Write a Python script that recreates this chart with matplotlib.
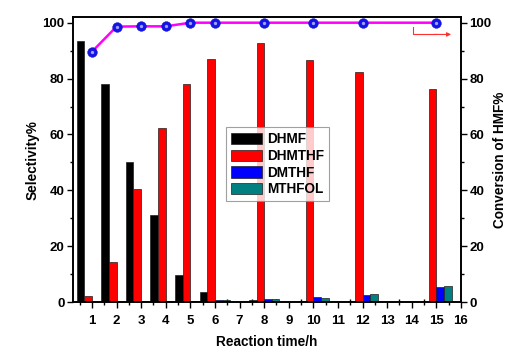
import matplotlib
matplotlib.use("Agg")
import matplotlib.pyplot as plt
import numpy as np
from matplotlib.ticker import MultipleLocator, FixedLocator

plt.rcParams['font.family'] = ['Liberation Sans', 'DejaVu Sans']
plt.rcParams['font.weight'] = 'bold'

times = [1, 2, 3, 4, 5, 6, 8, 10, 12, 15]
dhmf = [93.4, 78.1, 50.0, 31.0, 9.8, 3.6, 0.8, 0.3, 0.0, 0.0]
dhmthf = [2.3, 14.3, 40.4, 62.4, 78.1, 87.1, 92.7, 86.7, 82.4, 76.2]
dmthf = [0.0, 0.0, 0.0, 0.5, 0.5, 0.8, 1.2, 1.8, 2.7, 5.5]
mthfol = [0.0, 0.0, 0.0, 0.0, 0.0, 0.6, 1.0, 1.6, 2.8, 5.9]
conversion = [89.6, 98.6, 98.7, 98.7, 100, 100, 100, 100, 100, 100]
xtick_labels = [str(i) for i in range(1, 17)]

series = [("DHMF", dhmf, "#000000"),
          ("DHMTHF", dhmthf, "#FF0000"),
          ("DMTHF", dmthf, "#0000FF"),
          ("MTHFOL", mthfol, "#008080")]

fig = plt.figure(figsize=(5.25, 3.64), dpi=100)
ax = fig.add_axes([0.139, 0.170, 0.739, 0.783])
w = 0.31
x = np.array(times, dtype=float)
offsets = [-1.5, -0.5, 0.5, 1.5]
for (name, vals, col), off in zip(series, offsets):
    ax.bar(x + off * w, vals, width=w, color=col, edgecolor="#202020",
           linewidth=0.5, label=name, zorder=2)

ax.set_xlim(0.23, 16.0)
ax.set_ylim(0, 102)
ax.set_xticks(range(1, 17))
ax.set_xticklabels(xtick_labels)
ax.xaxis.set_minor_locator(FixedLocator(np.arange(0.5, 16.0, 1.0)))
ax.yaxis.set_major_locator(MultipleLocator(20))
ax.yaxis.set_minor_locator(MultipleLocator(10))
ax.tick_params(axis='y', which='major', direction='out', length=4, width=1,
               labelsize=9.5, pad=2)
ax.tick_params(axis='x', which='major', direction='out', length=4, width=1,
               labelsize=9.5, pad=5)
ax.tick_params(axis='x', which='minor', direction='inout', length=4, width=1)
ax.tick_params(axis='y', which='minor', direction='out', length=2.5, width=1)
ax.set_xlabel("Reaction time/h", fontsize=9.8, fontweight='bold', labelpad=6)
ax.set_ylabel("Selectivity%", fontsize=9.8, fontweight='bold', labelpad=2)
for sp in ax.spines.values():
    sp.set_linewidth(1.2)

leg = ax.legend(loc='upper left', bbox_to_anchor=(0.394, 0.613), fontsize=9.8,
                frameon=True, fancybox=False, edgecolor='#888888',
                handlelength=2.3, handleheight=0.9, labelspacing=0.2,
                borderpad=0.35, handletextpad=0.4, borderaxespad=0)
leg.get_frame().set_linewidth(0.8)
for t in leg.get_texts():
    t.set_fontweight('bold')

ax2 = ax.twinx()
ax2.set_ylim(0, 102)
ax2.yaxis.set_major_locator(MultipleLocator(20))
ax2.yaxis.set_minor_locator(MultipleLocator(10))
ax2.tick_params(axis='y', which='major', direction='out', length=4, width=1,
                labelsize=9.5, pad=2)
ax2.tick_params(axis='y', which='minor', direction='out', length=2.5, width=1)
ax2.set_ylabel("Conversion of HMF%", fontsize=9.8, fontweight='bold', labelpad=1)
ax2.plot(times, conversion, color='#FF00FF', linewidth=1.8, zorder=3)
ax2.plot(times, conversion, linestyle='none', marker='o', markersize=7,
         markerfacecolor='#1414E6', markeredgecolor='#1010C0',
         markeredgewidth=0.3, zorder=4)
ax2.plot(times, conversion, linestyle='none', marker='o', markersize=2.4,
         markerfacecolor='#A0A0FF', markeredgewidth=0, zorder=5)
for sp in ax2.spines.values():
    sp.set_linewidth(1.2)

# arrow pointing to the right axis
ax2.plot([14.06, 14.06, 15.0], [98.5, 95.8, 95.8], color='#FF3030', linewidth=0.8)
ax2.annotate("", xy=(15.6, 95.8), xytext=(14.9, 95.8),
             arrowprops=dict(arrowstyle='-|>', color='#FF3030', lw=0.8,
                             mutation_scale=6, shrinkA=0, shrinkB=0))

fig.savefig("out.png", dpi=100)
